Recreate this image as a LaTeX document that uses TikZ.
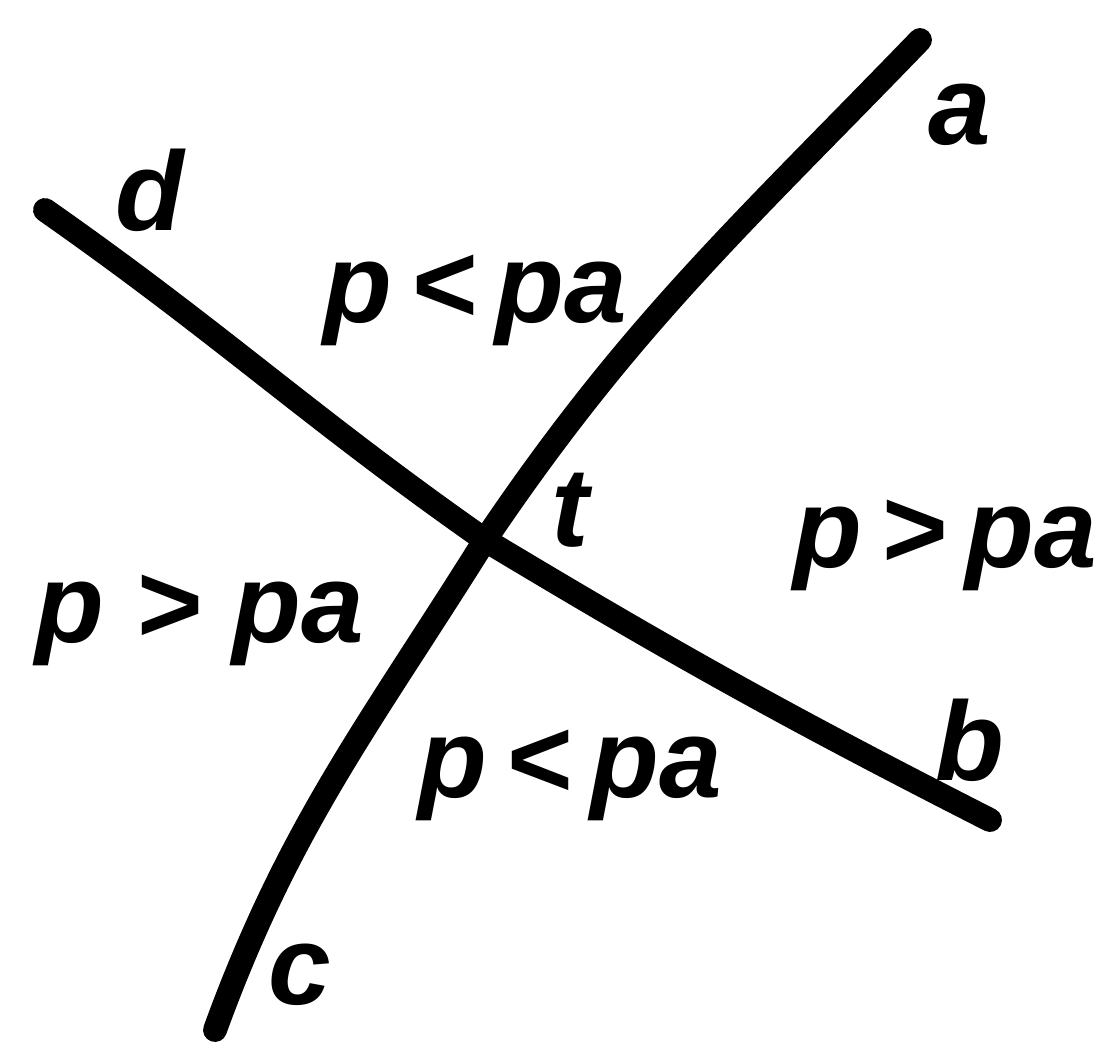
\documentclass[tikz,border=0pt]{standalone}
\usepackage{fontspec}
\setmainfont{Liberation Sans}
\usetikzlibrary{positioning}
\tikzset{
  every picture/.style={line width=5pt},
  curve/.style={draw=black, line width=6.8pt, line cap=round},
  lbl/.style={font=\fontsize{32}{34}\selectfont\bfseries\itshape, inner sep=0pt},
  region/.style={font=\fontsize{32}{34}\selectfont\bfseries\itshape, inner sep=0pt},
}
\begin{document}
\begin{tikzpicture}
  \useasboundingbox (0,0) rectangle (11.07,10.55);
  % ---- ends of the two curves and their crossing point ----
  \coordinate (ea) at (9.20,10.15);
  \coordinate (ec) at (2.15,0.25);
  \coordinate (ed) at (0.45,8.45);
  \coordinate (eb) at (9.90,2.35);
  \coordinate (t) at (4.85,5.15);
  % ---- curve c--t--a and curve d--t--b ----
  \draw[curve] (ec) to[out=70, in=238] (t) to[out=56, in=226] (ea);
  \draw[curve] (ed) to[out=-35, in=145] (t) to[out=-31, in=153] (eb);
  % ---- end labels ----
  \node[lbl] (la) at (9.60,9.40) {a};
  \node[lbl] (ld) at (1.50,8.65) {d};
  \node[lbl] (lb) at (9.70,3.15) {b};
  \node[lbl] (lc) at (3.00,0.80) {c};
  \node[lbl] (lt) at (5.70,5.45) {t};
  % ---- pressure regions ----
  \node[region] (rtop) at (4.75,7.55) {p\,<\,pa};
  \node[region] (rright) at (9.45,5.10) {p\,>\,pa};
  \node[region] (rleft) at (2.00,4.35) {p\;>\;pa};
  \node[region] (rbot) at (5.70,2.80) {p\,<\,pa};
\end{tikzpicture}
\end{document}
